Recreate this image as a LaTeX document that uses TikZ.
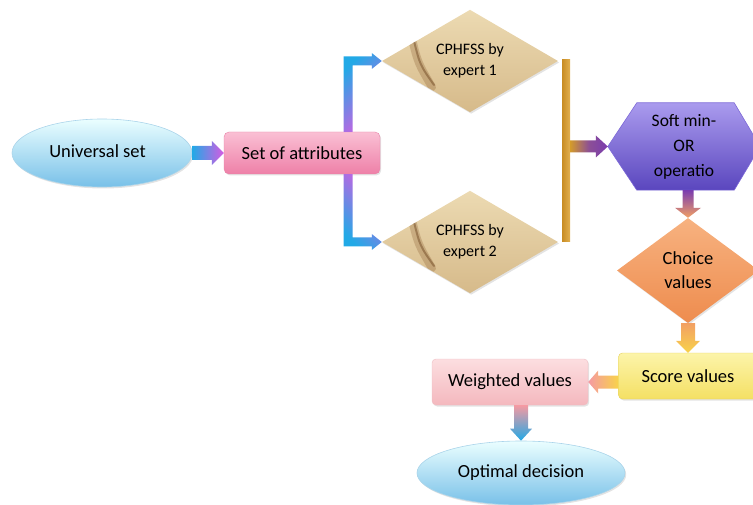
\documentclass[tikz,border=0pt]{standalone}
\usepackage{fontspec}
\setmainfont{Carlito}
\usetikzlibrary{shapes.geometric,calc,backgrounds,shadows}
\definecolor{arrcyan}{HTML}{22A9E6}
\definecolor{arrmag}{HTML}{D65BE2}
\definecolor{arrpur}{HTML}{7A3CB0}
\definecolor{arrgold}{HTML}{D39A2B}
\definecolor{arrorange}{HTML}{F2A064}
\definecolor{arryellow}{HTML}{F8D24A}
\definecolor{arrpink}{HTML}{F59AA2}
\newcommand{\rarr}[6]{\shade[#1] let \p1=#2, \p2=#3 in (\x1,\y2+#4) -- (\x2-#6,\y2+#4) -- (\x2-#6,\y2+#5) -- (\x2,\y2) -- (\x2-#6,\y2-#5) -- (\x2-#6,\y2-#4) -- (\x1,\y2-#4) -- cycle;}
\newcommand{\larr}[6]{\shade[#1] let \p1=#2, \p2=#3 in (\x1,\y2+#4) -- (\x2+#6,\y2+#4) -- (\x2+#6,\y2+#5) -- (\x2,\y2) -- (\x2+#6,\y2-#5) -- (\x2+#6,\y2-#4) -- (\x1,\y2-#4) -- cycle;}
\newcommand{\darr}[6]{\shade[#1] let \p1=#2, \p2=#3 in (\x2-#4,\y1) -- (\x2-#4,\y2+#6) -- (\x2-#5,\y2+#6) -- (\x2,\y2) -- (\x2+#5,\y2+#6) -- (\x2+#4,\y2+#6) -- (\x2+#4,\y1) -- cycle;}
\begin{document}
\begin{tikzpicture}[x=1pt,y=-1pt,
  txt/.style={font=\fontsize{18.5}{24}\selectfont, text=black, align=center, inner sep=0pt},
  shad/.style={drop shadow={shadow xshift=1.2pt, shadow yshift=-1.5pt, opacity=.22}},
  ell/.style={ellipse, txt, shad, top color=blue!3!cyan!8, bottom color={rgb,255:red,120;green,192;blue,232}, draw={rgb,255:red,170;green,212;blue,234}, line width=.6pt},
  box/.style={rectangle, rounded corners=5pt, txt, shad},
  dia/.style={diamond, inner sep=0pt, align=center, font=\fontsize{16}{21}\selectfont, text=black,
     top color={rgb,255:red,236;green,218;blue,178}, bottom color={rgb,255:red,214;green,186;blue,138}, shad,
     path picture={
       \draw[line width=8pt, brown!70!black, opacity=.28, line cap=round]
        ($(path picture bounding box.center)+(-58,-22)$) .. controls ($(path picture bounding box.center)+(-52,2)$) .. ($(path picture bounding box.center)+(-38,26)$);
       \draw[line width=2pt, brown!60!black, opacity=.5, line cap=round]
        ($(path picture bounding box.center)+(-56,-20)$) .. controls ($(path picture bounding box.center)+(-50,4)$) .. ($(path picture bounding box.center)+(-36,24)$);}},
  barsty/.style={rectangle, inner sep=0pt, left color={rgb,255:red,200;green,140;blue,35}, right color={rgb,255:red,226;green,176;blue,80}},
]
\useasboundingbox (0,0) rectangle (753,505);

% nodes
\node[ell, minimum width=180, minimum height=68] (us) at (102,153) {\raisebox{4pt}{Universal set}\hspace*{9pt}};
\node[box, minimum width=156, minimum height=42, top color={rgb,255:red,250;green,192;blue,212}, bottom color={rgb,255:red,238;green,128;blue,168}, draw={rgb,255:red,232;green,130;blue,168}] (attr) at (302,153) {Set of attributes};
\node[dia, minimum width=176, minimum height=98] (d1) at (470,61) {CPHFSS by\\expert 1};
\node[dia, minimum width=176, minimum height=98] (d2) at (470,242) {CPHFSS by\\expert 2};
\node[barsty, minimum width=8, minimum height=182] (bar) at (566,151) {};
\node[txt, font=\fontsize{17.5}{25}\selectfont, minimum width=152, minimum height=87] (hex) at (684,146.5) {Soft min-\\OR\\operatio};
\node[diamond, txt, minimum width=142, minimum height=105, shad, top color={rgb,255:red,247;green,178;blue,128}, bottom color={rgb,255:red,238;green,140;blue,78}] (ch) at (688,270.5) {Choice\\values};
\node[box, rounded corners=4pt, minimum width=139, minimum height=46, top color={rgb,255:red,252;green,244;blue,170}, bottom color={rgb,255:red,244;green,224;blue,100}, draw={rgb,255:red,230;green,208;blue,90}] (sc) at (688,376) {Score values};
\node[box, rounded corners=4pt, minimum width=156, minimum height=46, top color={rgb,255:red,252;green,222;blue,224}, bottom color={rgb,255:red,244;green,184;blue,190}, draw={rgb,255:red,238;green,190;blue,196}] (wv) at (510,382) {Weighted values};
\node[ell, minimum width=208, minimum height=64] (opt) at (521,473) {\raisebox{4pt}{Optimal decision}};

\begin{scope}[on background layer]
\shade[top color={rgb,255:red,170;green,155;blue,238}, bottom color={rgb,255:red,90;green,70;blue,190}, draw={rgb,255:red,125;green,105;blue,215}, line width=.6pt]
  (hex.west) -- ($(hex.north west)+(29,0)$) -- ($(hex.north east)+(-26,0)$) -- (hex.east)
  -- ($(hex.south east)+(-26,0)$) -- ($(hex.south west)+(29,0)$) -- cycle;
\end{scope}

% connectors
\rarr{left color=arrcyan, right color=arrmag}{(us.east)}{(attr.west)}{7pt}{12pt}{12pt}
% bent branch arrows
\shade[top color=arrcyan, bottom color=arrmag, shading angle=45]
  let \p1=($(attr.north east)+(-32,0)$), \p2=(d1.west) in
  (\x1-4.5pt,\y1) -- (\x1-4.5pt,\y2+4.5pt) -- (\x2-10pt,\y2+4.5pt) -- (\x2-10pt,\y2+8pt) -- (\x2,\y2)
  -- (\x2-10pt,\y2-8pt) -- (\x2-10pt,\y2-4.5pt) -- (\x1+4.5pt,\y2-4.5pt) -- (\x1+4.5pt,\y1) -- cycle;
\shade[top color=arrcyan, bottom color=arrmag, shading angle=135]
  let \p1=($(attr.south east)+(-32,0)$), \p2=(d2.west) in
  (\x1-4.5pt,\y1) -- (\x1-4.5pt,\y2-4.5pt) -- (\x2-10pt,\y2-4.5pt) -- (\x2-10pt,\y2-8pt) -- (\x2,\y2)
  -- (\x2-10pt,\y2+8pt) -- (\x2-10pt,\y2+4.5pt) -- (\x1+4.5pt,\y2+4.5pt) -- (\x1+4.5pt,\y1) -- cycle;
\rarr{left color=arrgold, right color=arrpur, middle color=arrpur!80!arrgold}{(bar.east)}{(hex.west)}{6pt}{11pt}{12pt}
\darr{top color=arrpur, bottom color=arrorange}{(hex.south)}{(ch.north)}{5.5pt}{13pt}{10pt}
\darr{top color=arrorange, bottom color=arryellow}{(ch.south)}{(sc.north)}{7pt}{12pt}{12pt}
\larr{right color=arryellow, left color=arrpink}{(sc.west)}{(wv.east)}{6.5pt}{11.5pt}{10pt}
\darr{top color=arrpink, bottom color=arrcyan}{(wv.south)}{(opt.north)}{7pt}{11pt}{12pt}
\end{tikzpicture}
\end{document}
